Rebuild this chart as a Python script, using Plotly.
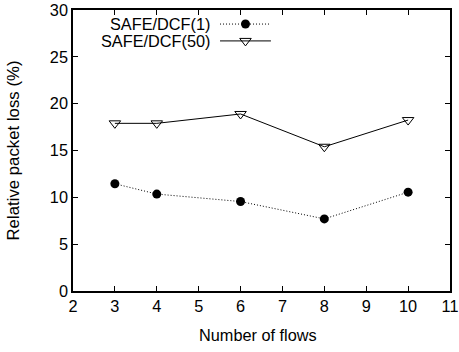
import plotly.graph_objects as go

flows = [3, 4, 6, 8, 10]
safe_dcf_1 = [11.45, 10.35, 9.55, 7.7, 10.55]
safe_dcf_50 = [17.9, 17.9, 18.9, 15.4, 18.25]
series_names = ["SAFE/DCF(1)", "SAFE/DCF(50)"]
x_ticks = list(range(2, 12))
y_ticks = [0, 5, 10, 15, 20, 25, 30]

FONT = "Liberation Sans, Arial, Helvetica, sans-serif"
FS = 16.3
DOT = "1px,2px"
fig = go.Figure()

fig.add_trace(go.Scatter(
    x=flows, y=safe_dcf_1, mode="lines+markers", name=series_names[0],
    line=dict(color="black", width=1, dash=DOT),
    marker=dict(symbol="circle", size=9, color="black"),
    showlegend=False))
fig.add_trace(go.Scatter(
    x=flows, y=safe_dcf_50, mode="lines+markers", name=series_names[1],
    line=dict(color="black", width=1),
    marker=dict(symbol="triangle-down-open", size=10, color="black", line=dict(width=1)),
    showlegend=False))

# manual gnuplot-style legend (text left of sample) on an overlay axis
leg_rows = [0.95, 0.89]
styles = [
    (dict(color="black", width=1, dash=DOT), dict(symbol="circle", size=9, color="black")),
    (dict(color="black", width=1), dict(symbol="triangle-down-open", size=10, color="black", line=dict(width=1))),
]
for name, yy, (ln, mk) in zip(series_names, leg_rows, styles):
    fig.add_trace(go.Scatter(x=[0.39, 0.525], y=[yy, yy], mode="lines", line=ln,
                             xaxis="x2", yaxis="y2", showlegend=False, hoverinfo="skip"))
    fig.add_trace(go.Scatter(x=[0.4575], y=[yy], mode="markers", marker=mk,
                             xaxis="x2", yaxis="y2", showlegend=False, hoverinfo="skip"))
    fig.add_annotation(x=0.37, y=yy, xref="x2", yref="y2", text=name, showarrow=False,
                       xanchor="right", yanchor="middle", font=dict(family=FONT, size=FS, color="black"))

fig.add_annotation(x=0.49, y=-0.157, xref="paper", yref="paper", text="Number of flows",
                   showarrow=False, xanchor="center", yanchor="middle",
                   font=dict(family=FONT, size=FS, color="black"))
fig.add_annotation(x=-60 / 377, y=0.5, xref="paper", yref="paper", text="Relative packet loss (%)",
                   showarrow=False, xanchor="center", yanchor="middle", textangle=-90,
                   font=dict(family=FONT, size=16.8, color="black"))

axis_common = dict(showline=True, linecolor="black", linewidth=1.5, mirror="ticks",
                   ticks="inside", ticklen=5, tickcolor="black", showgrid=False, zeroline=False,
                   automargin=False,
                   tickfont=dict(family=FONT, size=FS, color="black"))

fig.update_layout(
    width=459, height=352,
    margin=dict(l=73, r=9, t=10, b=61),
    paper_bgcolor="white", plot_bgcolor="white",
    xaxis=dict(range=[2, 11], tickvals=x_ticks, ticktext=[str(v) for v in x_ticks], **axis_common),
    yaxis=dict(range=[0, 30], tickvals=y_ticks, ticktext=[str(v) for v in y_ticks], **axis_common),
    xaxis2=dict(range=[0, 1], overlaying="x", visible=False, fixedrange=True),
    yaxis2=dict(range=[0, 1], overlaying="y", visible=False, fixedrange=True),
)

fig.write_html("out.html", config={"displayModeBar": False},
               post_script="document.body.style.margin='0';document.body.style.overflow='hidden';")
